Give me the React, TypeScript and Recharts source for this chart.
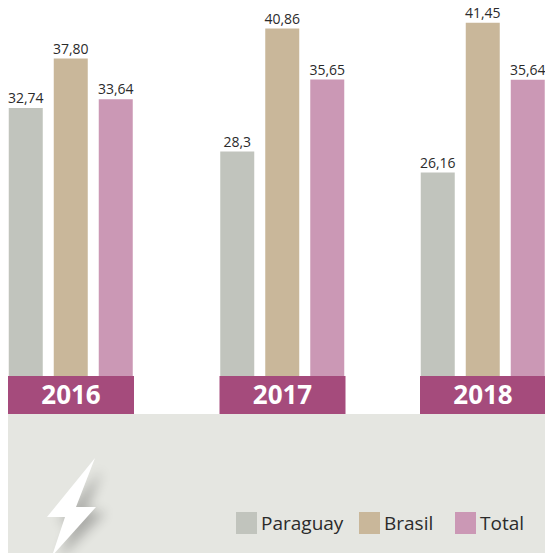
import React from "react";
import { BarChart, Bar, XAxis, YAxis, Legend, LabelList } from "recharts";

const years = ["2016", "2017", "2018"];
const paraguay = [32.74, 28.3, 26.16];
const brasil = [37.8, 40.86, 41.45];
const total = [33.64, 35.65, 35.64];
const paraguayLabels = ["32,74", "28,3", "26,16"];
const brasilLabels = ["37,80", "40,86", "41,45"];
const totalLabels = ["33,64", "35,65", "35,64"];

// The groups are unevenly spaced in the original, and its value axis does not start at zero.
const groupCentres = [71, 282.5, 483];
const valueDomain = [5.4, 43.77];

const series = [
  { key: "paraguay", name: "Paraguay", labelKey: "paraguayLabel", color: "#C1C4BD" },
  { key: "brasil", name: "Brasil", labelKey: "brasilLabel", color: "#C9B79A" },
  { key: "total", name: "Total", labelKey: "totalLabel", color: "#CB98B5" },
];

const rows = years.map((year, i) => ({
  year,
  pos: groupCentres[i],
  paraguay: paraguay[i],
  brasil: brasil[i],
  total: total[i],
  paraguayLabel: paraguayLabels[i],
  brasilLabel: brasilLabels[i],
  totalLabel: totalLabels[i],
}));

const FONT = "'Open Sans', sans-serif";

function YearTick(props: any) {
  const { x, y, payload } = props;
  const i = groupCentres.indexOf(payload.value);
  return (
    <g>
      <rect x={x - 63} y={y} width={126} height={38} fill="#A54B7C" />
      <text x={x} y={y + 28} textAnchor="middle" fill="#FFFFFF" fontFamily={FONT} fontWeight={700} fontSize={26}>
        {years[i]}
      </text>
    </g>
  );
}

const legendLefts = [236, 359, 455];

function LegendContent() {
  return (
    <div style={{ position: "relative", width: 545, height: 40, fontFamily: FONT, fontSize: 19, color: "#2B2B2B" }}>
      {series.map((s, i) => (
        <div key={s.key} style={{ position: "absolute", left: legendLefts[i], top: 5, display: "flex", alignItems: "center", height: 22 }}>
          <span style={{ display: "block", width: 21, height: 22, background: s.color, marginRight: 4 }} />
          <span style={{ lineHeight: "22px", whiteSpace: "nowrap" }}>{s.name}</span>
        </div>
      ))}
    </div>
  );
}

export default function App() {
  return (
    <div style={{ position: "absolute", left: 0, top: 0, width: 545, height: 553, overflow: "hidden", background: "#FFFFFF" }}>
      <div style={{ position: "absolute", left: 8, top: 414, width: 537, height: 139, background: "#E5E6E1" }} />
      <svg width={545} height={553} style={{ position: "absolute", left: 0, top: 0 }}>
        <defs>
          <filter id="boltBlur" x="-50%" y="-50%" width="200%" height="200%">
            <feGaussianBlur stdDeviation="6" />
          </filter>
        </defs>
        <polygon points="102,470 58,522 72,522 60,558 106,512 86,512" fill="#000000" opacity={0.25} filter="url(#boltBlur)" />
        <polygon points="95,458 47,517 65,517 52,556 96,507 76,507" fill="#FFFFFF" />
      </svg>
      <div style={{ position: "absolute", left: 0, top: 0 }}>
        <BarChart
          width={545}
          height={553}
          data={rows}
          margin={{ top: 0, right: 0, bottom: 0, left: 0 }}
          barSize={34}
          barGap={11}
        >
          <XAxis
            dataKey="pos"
            type="number"
            domain={[0, 545]}
            ticks={groupCentres}
            interval={0}
            height={137}
            axisLine={false}
            tickLine={false}
            tickSize={0}
            tickMargin={0}
            tick={<YearTick />}
          />
          <YAxis hide width={0} type="number" domain={valueDomain} allowDataOverflow />
          <Legend
            verticalAlign="bottom"
            content={<LegendContent />}
            wrapperStyle={{ position: "absolute", left: 0, top: 507, bottom: "auto", width: 545 }}
          />
          {series.map((s) => (
            <Bar key={s.key} dataKey={s.key} name={s.name} fill={s.color} isAnimationActive={false}>
              <LabelList dataKey={s.labelKey} position="top" offset={5} fill="#2B2B2B" fontFamily={FONT} fontSize={14} />
            </Bar>
          ))}
        </BarChart>
      </div>
    </div>
  );
}
